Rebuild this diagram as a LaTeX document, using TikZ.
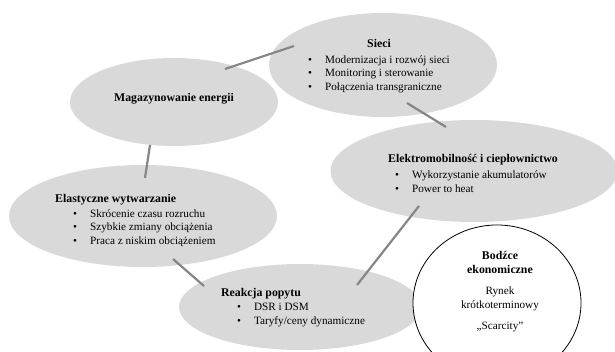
\documentclass[tikz,border=0pt]{standalone}
\usepackage{fontspec}
\setmainfont{Liberation Serif}
\usetikzlibrary{shapes.geometric}
\newcommand{\hdfont}{\fontsize{11.8}{13.5}\selectfont\bfseries}
\newcommand{\lstfont}{\fontsize{11.2}{13.5}\selectfont}
\newcommand{\pt}{\textbullet\hspace{13pt}}
\tikzset{
  blob/.style={ellipse,fill=gray!30,inner sep=0pt},
  link/.style={draw=gray!95,line width=2.2pt},
  head/.style={font=\hdfont,inner sep=0pt,anchor=base},
  items/.style={font=\lstfont,inner sep=0pt,anchor=west,align=left},
}
\begin{document}
\begin{tikzpicture}[x=1pt,y=-1pt]
\useasboundingbox (0,0) rectangle (615,352);
% the gray fields
\node[blob,minimum width=228,minimum height=104] (sieci) at (383,65) {};
\node[blob,minimum width=208,minimum height=88] (mag) at (174,102) {};
\node[blob,minimum width=287,minimum height=102] (elektro) at (474,171) {};
\node[blob,minimum width=268,minimum height=102] (elast) at (143,216) {};
\node[blob,minimum width=242,minimum height=86] (popyt) at (300,307) {};
\node[ellipse,draw=black,fill=white,line width=0.8pt,minimum width=168,minimum height=156,inner sep=0pt] (bodzce) at (497,303) {};
% connectors
\coordinate (mag-s) at (225,69); \coordinate (sieci-m) at (294,46);
\coordinate (sieci-e) at (407,103); \coordinate (elektro-s) at (446,127);
\coordinate (mag-e) at (150,145); \coordinate (elast-m) at (145,178);
\coordinate (elast-p) at (173,259); \coordinate (popyt-e) at (204,286);
\coordinate (elektro-p) at (419,206); \coordinate (popyt-k) at (357,285);
\draw[link] (mag-s) -- (sieci-m);
\draw[link] (sieci-e) -- (elektro-s);
\draw[link] (mag-e) -- (elast-m);
\draw[link] (elast-p) -- (popyt-e);
\draw[link] (elektro-p) -- (popyt-k);
% texts
\node[head] (tsieci) at (379,48) {Sieci};
\node[items] (lsieci) at (308,74) {\begin{tabular}{@{}l@{}}
\pt Modernizacja i rozwój sieci\\ \pt Monitoring i sterowanie\\ \pt Połączenia transgraniczne\end{tabular}};
\node[head] (tmag) at (174,102) {Magazynowanie energii};
\node[head] (telektro) at (473,163) {Elektromobilność i ciepłownictwo};
\node[items] (lelektro) at (395,183) {\begin{tabular}{@{}l@{}}
\pt Wykorzystanie akumulatorów\\ \pt Power to heat\end{tabular}};
\node[head,anchor=base west] (telast) at (55,203) {Elastyczne wytwarzanie};
\node[items] (lelast) at (73,228) {\begin{tabular}{@{}l@{}}
\pt Skrócenie czasu rozruchu\\ \pt Szybkie zmiany obciążenia\\ \pt Praca z niskim obciążeniem\end{tabular}};
\node[head,anchor=base west] (tpopyt) at (221,297) {Reakcja popytu};
\node[items] (lpopyt) at (237,315) {\begin{tabular}{@{}l@{}}
\pt DSR i DSM\\ \pt Taryfy/ceny dynamiczne\end{tabular}};
\node[font=\lstfont,align=center,inner sep=0pt] (tbodzce) at (500,292)
  {{\hdfont Bodźce}\\{\hdfont ekonomiczne}\\[8pt]Rynek\\krótkoterminowy\\[8pt]„Scarcity”};
\end{tikzpicture}
\end{document}
